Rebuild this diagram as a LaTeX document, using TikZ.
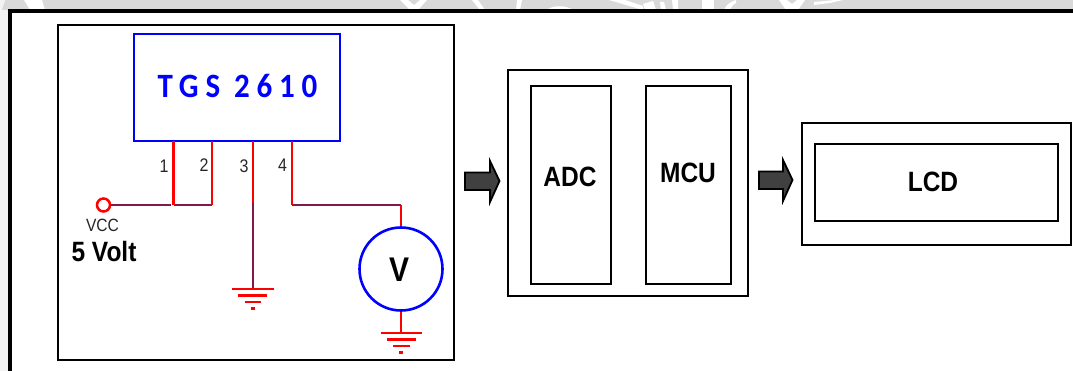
\documentclass[tikz,border=0pt]{standalone}
\usepackage{fontspec}
\setmainfont{Liberation Sans}
\newfontfamily\tgsfont[LetterSpace=22]{Carlito}
\definecolor{wirepurple}{HTML}{7F1A50}
\definecolor{arrowgray}{HTML}{404040}
\definecolor{bandgray}{HTML}{D9D9D9}
\definecolor{stripgray}{HTML}{F3F3F3}
\newcommand{\tallt}[2][1.14]{\scalebox{1}[#1]{#2}}
\tikzset{
  blockbox/.style={draw=black,line width=2.6pt,fill=white,inner sep=0pt},
  bluebox/.style={draw=blue,line width=2.6pt,fill=white,inner sep=0pt},
  redwire/.style={draw=red,line width=2.5pt},
  purplewire/.style={draw=wirepurple,line width=2.5pt},
  gndline/.style={draw=red,line width=2.4pt},
  flowarrow/.style={draw=black,line width=1.8pt,fill=arrowgray,line join=miter},
  pinlabel/.style={font=\fontsize{16}{16}\selectfont,text=black!85},
  boldlabel/.style={font=\fontsize{24.5}{24.5}\selectfont\bfseries,text=black}
}
\begin{document}
\begin{tikzpicture}[x=1pt,y=-1pt]
\useasboundingbox (0,0) rectangle (1073,371);
% page background
\fill[bandgray] (0,0) rectangle (1073,10);
\fill[stripgray] (0,10) rectangle (8,371);
% watermark remnants in the band
\fill[stripgray] (0,0) -- (5,0) -- (2,10) -- (0,10) -- cycle;
\fill[white] (24,0) -- (42,0) -- (45,10) -- (30,10) -- cycle;
\fill[white] (400,0) -- (408,0) -- (414,5) -- (420,0) -- (427,0) -- (418,10) -- (410,10) -- cycle;
\fill[white] (472,0) -- (478,0) -- (485,10) -- (480,10) -- cycle;
\fill[white] (517,0) -- (522,0) -- (520,10) -- (516,10) -- cycle;
\fill[white] (547,10) .. controls (552,5) and (566,5) .. (573,10) -- cycle;
\fill[white] (609,0) -- (625,0) -- (643,6) -- (643,10) -- cycle;
\fill[white] (643,4) -- (653,1) -- (656,10) -- (645,10) -- cycle;
\fill[white] (660,2) -- (664,2) -- (666,10) -- (661,10) -- cycle;
\fill[white] (672,0) -- (678,0) -- (678,10) -- (673,10) -- cycle;
\fill[white] (702,0) -- (714,0) -- (714,10) -- (702,10) -- cycle;
\fill[white] (724,10) .. controls (726,5) and (730,2) .. (736,0) -- (736,3) .. controls (732,5) and (731,8) .. (730,10) -- cycle;
\fill[white] (779,0) -- (787,0) -- (792,4) -- (797,0) -- (805,0) -- (798,10) -- (786,10) -- cycle;
\fill[white] (814,5) -- (830,3) -- (843,0) -- (835,0) -- (814,2) -- cycle;
% frame
\fill[white] (11,11) rectangle (1073,371);
\draw[black,line width=4pt] (10.3,371) -- (10.3,11) -- (1073,11);
% sensor block
\node[blockbox,minimum width=396pt,minimum height=335pt] (sensorbox) at (256,192.5) {};
\node[bluebox,minimum width=206pt,minimum height=107pt,text=blue] (tgs) at (237,87.5) {};
\node[text=blue,font=\tgsfont\fontsize{31}{31}\selectfont\bfseries,inner sep=0pt] (tgslabel) at (237.5,86) {\tallt[1.1]{TGS 2610}};
% pins
\coordinate (p1t) at (173.5,141); \coordinate (p1b) at (173.5,205);
\coordinate (p2t) at (212,141);   \coordinate (p2b) at (212,205);
\coordinate (p3t) at (253,141);   \coordinate (p3m) at (253,203);
\coordinate (p4t) at (292,141);   \coordinate (p4b) at (292,205);
\coordinate (vt) at (401,205);
\node[draw=red,line width=2.5pt,circle,minimum size=13pt,inner sep=0pt] (vcc) at (103.5,205) {};
\node[draw=blue,line width=2.6pt,circle,minimum size=83pt,inner sep=0pt] (vm) at (401,269) {};
\node[font=\fontsize{30}{30}\selectfont\bfseries,inner sep=0pt] (vlabel) at (399,270) {\tallt{V}};
\coordinate (g3) at (253,289);
\coordinate (g4) at (401,333);
\coordinate (wj) at (171,205);
\draw[purplewire] (vcc) -- (wj);
\draw[purplewire] (p1b) -- (p2b);
\draw[purplewire] (p3m) -- (g3);
\draw[purplewire] (p4b) -- (vt);
\draw[redwire] (p1t) -- (p1b);
\draw[redwire] (p2t) -- (p2b);
\draw[redwire] (p3t) -- (p3m);
\draw[redwire] (p4t) -- (p4b);
\draw[redwire] (vt) -- (vm.north);
\draw[redwire] (vm.south) -- (g4);
% grounds
\foreach \gx/\gy in {253/289,401.5/333}{
  \draw[gndline] (\gx-21,\gy) -- (\gx+20.5,\gy);
  \draw[gndline] (\gx-15,\gy+6.5) -- (\gx+14,\gy+6.5);
  \draw[gndline] (\gx-8.5,\gy+13) -- (\gx+8,\gy+13);
  \draw[gndline] (\gx-2.5,\gy+19.5) -- (\gx+1.5,\gy+19.5);
}
% labels
\node[pinlabel,inner sep=0pt] (n1) at (164,166) {\tallt{1}};
\node[pinlabel,inner sep=0pt] (n2) at (204,165) {\tallt{2}};
\node[pinlabel,inner sep=0pt] (n3) at (244,166) {\tallt{3}};
\node[pinlabel,inner sep=0pt] (n4) at (282.5,165.5) {\tallt{4}};
\node[font=\fontsize{15.6}{15.6}\selectfont,text=black!85,inner sep=0pt] (vcclabel) at (102.5,225.5) {\tallt{VCC}};
\node[boldlabel,inner sep=0pt] (volt) at (104,251.5) {\tallt{5 Volt}};
% MCU block
\node[blockbox,minimum width=240pt,minimum height=226pt] (mcubox) at (628,183) {};
\node[blockbox,minimum width=80pt,minimum height=198pt] (adc) at (571,185) {};
\node[blockbox,minimum width=85pt,minimum height=198pt] (mcu) at (688.5,185) {};
\node[boldlabel,inner sep=0pt] (adclabel) at (570,177) {\tallt{ADC}};
\node[boldlabel,inner sep=0pt] (mculabel) at (688,173) {\tallt{MCU}};
% LCD block
\node[blockbox,minimum width=269pt,minimum height=122pt] (lcdbox) at (936.5,184) {};
\node[blockbox,minimum width=243pt,minimum height=77pt] (lcd) at (936.5,182.5) {};
\node[boldlabel,inner sep=0pt] (lcdlabel) at (933,182) {\tallt{LCD}};
% arrows
\draw[flowarrow] (465,172.5) -- (490,172.5) -- (490,161) -- (499.5,181) -- (490,202) -- (490,190) -- (465,190) -- cycle;
\draw[flowarrow] (759,171.5) -- (783,171.5) -- (783,160) -- (792.5,180) -- (783,201) -- (783,189) -- (759,189) -- cycle;
\end{tikzpicture}
\end{document}
